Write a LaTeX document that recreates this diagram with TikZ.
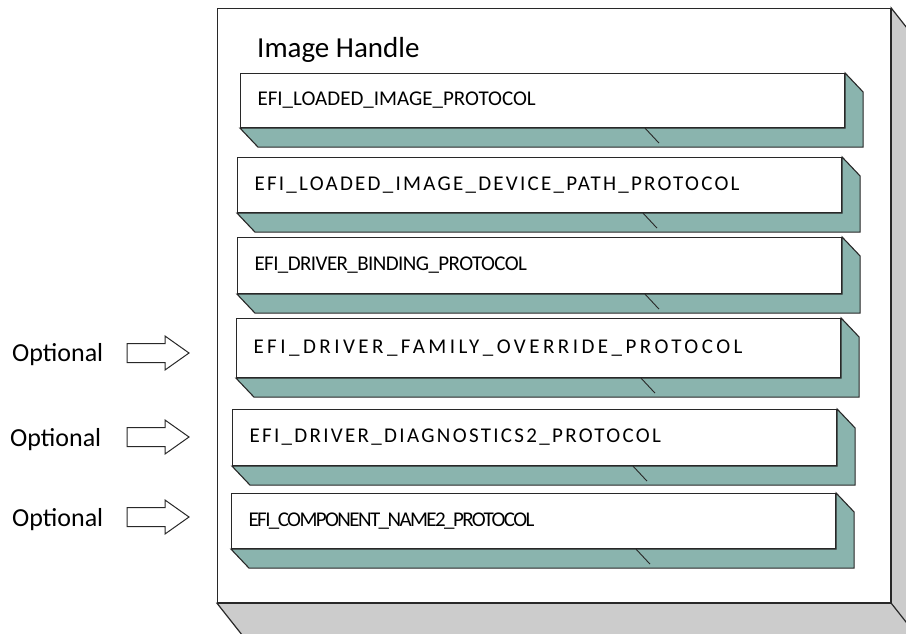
\documentclass[tikz,border=0pt]{standalone}
\usepackage{fontspec}
\setmainfont{Carlito}
\usetikzlibrary{calc}
\definecolor{sideteal}{RGB}{138,180,174}
\definecolor{sidegray}{RGB}{204,204,204}
\definecolor{edgeclr}{RGB}{40,40,40}
\tikzset{
  handlebox/.style={draw=edgeclr, fill=white, line width=1.2pt, anchor=north west,
    minimum width=673pt, minimum height=594pt, inner sep=0pt},
  proto/.style={draw=edgeclr, fill=white, line width=1.1pt, anchor=north west,
    text width=570pt, inner xsep=17pt, inner ysep=0pt, align=left,
    font=\fontsize{21}{25}\selectfont\addfontfeature{LetterSpace=#1}},
  proto/.default=0,
  tealside/.style={draw=edgeclr, fill=sideteal, line width=1.1pt},
  grayside/.style={draw=edgeclr, fill=sidegray, line width=1.2pt},
  hiddenedge/.style={draw=edgeclr, line width=0.9pt},
  blockarrow/.style={draw=edgeclr, fill=white, line width=1pt, line join=miter},
  optlabel/.style={anchor=west, inner sep=0pt, font=\fontsize{26}{30}\selectfont},
}
\begin{document}
\begin{tikzpicture}[x=1pt,y=-1pt]
  \clip (0,0) rectangle (906,633);
  \fill[white] (0,0) rectangle (906,633);
  % image handle
  \node[handlebox] (hnd) at (217,8) {};
  \draw[grayside] (hnd.south west) -- ($(hnd.south west)+(30,38)$)
    -- ($(hnd.south east)+(30,38)$) -- ($(hnd.north east)+(30,38)$)
    -- (hnd.north east) -- (hnd.south east) -- cycle;
  \draw[grayside] (hnd.south east) -- ($(hnd.south east)+(30,38)$);
  \node[anchor=west, inner sep=0pt, font=\fontsize{29}{33}\selectfont] (hndlbl) at (257,50) {Image Handle};

  % protocols
  \node[proto, minimum height=54pt] (lip) at (240,73) {EFI\_LOADED\_IMAGE\_PROTOCOL};
  \node[proto=10.7, minimum height=55pt] (ldp) at (237,157) {EFI\_LOADED\_IMAGE\_DEVICE\_PATH\_PROTOCOL};
  \node[proto=-2.8, minimum height=56pt] (dbp) at (237,237) {EFI\_DRIVER\_BINDING\_PROTOCOL};
  \node[proto=16.5, minimum height=59pt] (dfo) at (236,318) {EFI\_DRIVER\_FAMILY\_OVERRIDE\_PROTOCOL};
  \node[proto=11, minimum height=56pt] (ddg) at (232,409) {EFI\_DRIVER\_DIAGNOSTICS2\_PROTOCOL};
  \node[proto=-7.6, minimum height=55pt] (cnm) at (231,493) {EFI\_COMPONENT\_NAME2\_PROTOCOL};

  \draw[tealside] (lip.south west) -- ($(lip.south west)+(18,19)$) -- ($(lip.south east)+(18,19)$)
    -- ($(lip.north east)+(18,19)$) -- (lip.north east) -- (lip.south east) -- cycle;
  \draw[tealside] (ldp.south west) -- ($(ldp.south west)+(18,19)$) -- ($(ldp.south east)+(18,19)$)
    -- ($(ldp.north east)+(18,19)$) -- (ldp.north east) -- (ldp.south east) -- cycle;
  \draw[tealside] (dbp.south west) -- ($(dbp.south west)+(18,19)$) -- ($(dbp.south east)+(18,19)$)
    -- ($(dbp.north east)+(18,19)$) -- (dbp.north east) -- (dbp.south east) -- cycle;
  \draw[tealside] (dfo.south west) -- ($(dfo.south west)+(18,19)$) -- ($(dfo.south east)+(18,19)$)
    -- ($(dfo.north east)+(18,19)$) -- (dfo.north east) -- (dfo.south east) -- cycle;
  \draw[tealside] (ddg.south west) -- ($(ddg.south west)+(18,19)$) -- ($(ddg.south east)+(18,19)$)
    -- ($(ddg.north east)+(18,19)$) -- (ddg.north east) -- (ddg.south east) -- cycle;
  \draw[tealside] (cnm.south west) -- ($(cnm.south west)+(18,19)$) -- ($(cnm.south east)+(18,19)$)
    -- ($(cnm.north east)+(18,19)$) -- (cnm.north east) -- (cnm.south east) -- cycle;

  \draw[hiddenedge] ([xshift=405pt]lip.south west) -- ++(14,15);
  \draw[hiddenedge] ([xshift=406pt]ldp.south west) -- ++(14,15);
  \draw[hiddenedge] ([xshift=408pt]dbp.south west) -- ++(14,15);
  \draw[hiddenedge] ([xshift=405pt]dfo.south west) -- ++(14,15);
  \draw[hiddenedge] ([xshift=401pt]ddg.south west) -- ++(14,15);
  \draw[hiddenedge] ([xshift=405pt]cnm.south west) -- ++(14,15);

  % optional markers
  \node[optlabel] (optA) at (12,355) {Optional};
  \node[optlabel] (optB) at (10,440) {Optional};
  \node[optlabel] (optC) at (12,520) {Optional};
  \coordinate (arrA) at (127,353);
  \coordinate (arrB) at (127,437);
  \coordinate (arrC) at (127,517);
  \draw[blockarrow] (arrA) ++(0,-9.5) -- ++(38,0) -- ++(0,-7.5) -- ++(24,17) -- ++(-24,17) -- ++(0,-7.5) -- ++(-38,0) -- cycle;
  \draw[blockarrow] (arrB) ++(0,-9.5) -- ++(38,0) -- ++(0,-7.5) -- ++(24,17) -- ++(-24,17) -- ++(0,-7.5) -- ++(-38,0) -- cycle;
  \draw[blockarrow] (arrC) ++(0,-9.5) -- ++(38,0) -- ++(0,-7.5) -- ++(24,17) -- ++(-24,17) -- ++(0,-7.5) -- ++(-38,0) -- cycle;
\end{tikzpicture}
\end{document}
